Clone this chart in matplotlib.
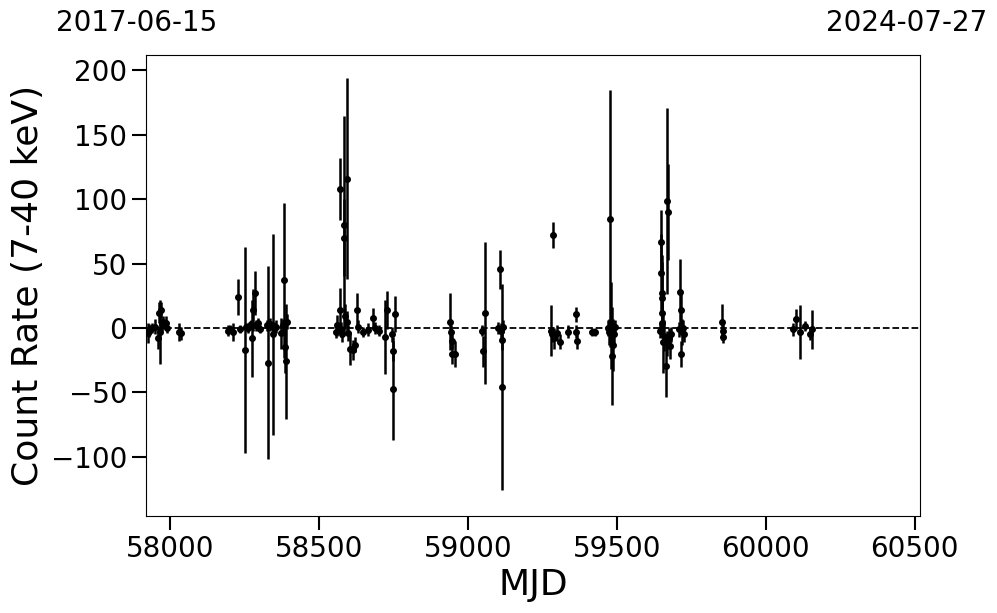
import matplotlib.pyplot as plt

# light curve values (MJD, rate, 1-sigma error)
mjd = [
    57925, 57930, 57940, 57950, 57958, 57962, 57965, 57970, 57973, 57976, 57980, 57985, 57990, 58030, 58035,
    58194, 58201, 58211, 58228, 58235, 58251, 58255, 58262, 58270, 58275, 58278, 58285, 58290, 58295, 58302,
    58325, 58329, 58335, 58345, 58350, 58356, 58372, 58380, 58382, 58386, 58389, 58392,
    58557, 58562, 58570, 58570, 58574, 58576, 58585, 58585, 58587, 58593, 58593, 58597, 58604, 58614, 58621,
    58627, 58631, 58648, 58665, 58681, 58688, 58700, 58722, 58728, 58744, 58749, 58749, 58755,
    58940, 58942, 58945, 58948, 58957,
    59046, 59052, 59057, 59101, 59108, 59112, 59116, 59116, 59119,
    59279, 59283, 59286, 59290, 59299, 59309, 59336, 59363, 59363, 59365, 59416, 59427,
    59470, 59474, 59477, 59480, 59483, 59486, 59490, 59494,
    59645, 59648, 59648, 59650, 59651, 59653, 59653, 59655, 59658, 59664, 59667, 59670, 59673, 59675, 59679, 59682,
    59708, 59712, 59714, 59716, 59720, 59722, 59725,
    59854, 59857, 59858,
    60093, 60102, 60115, 60132, 60149, 60155,
]
rate = [
    -4, -2, 0, 1, -8, 12, -3, 14, 3, 5, 2, 4, 0, -3, -4,
    -2, -1, -3, 24, -1, -17, 1, 0, 3, -8, 14, 27, 2, 4, -1,
    2, -27, 3, -5, 0, 1, -4, 2, 37, -15, -26, 5,
    -3, 2, 14, 108, -1, -5, 80, 70, 9, 116, 5, -4, -16, -17, -13,
    14, 1, -3, -1.5, 7.5, 0, -2, -7, 14, -5, -18, -47, 11,
    5, -3, -10, -20, -20,
    -2, -18, 11.5, 0, 45.6, -2, -9, -45.6, 1,
    -2, -5, 72, -8, -4, -10.6, -3, 10.6, -3, -10, -3, -3,
    0, -3, 85, 2, -22, -13, -5, 1,
    -2, 67, 43, 27, 23, 12, 3.6, -11, -6, -29.5, -12, 98.7, 90, -8, -14, -5,
    -1, 27.8, -20, 14, -3, 0, -5,
    5, -2, -7,
    -1, 6.7, -3, 1.5, -4.7, -1,
]
err = [
    8, 5, 4, 6, 8, 8, 25, 6, 5, 4, 3, 5, 4, 7, 5,
    4, 3, 7, 14, 3, 80, 3, 4, 3, 30, 16, 17, 4, 4, 3,
    4, 75, 5, 78, 5, 5, 12, 5, 60, 20, 45, 6,
    5, 8, 17, 24, 6, 6, 85, 30, 10, 78, 8, 6, 13, 8, 6,
    13, 5, 4, 5, 8, 5, 4, 29, 15, 6, 8, 40, 14,
    22, 5, 6, 8, 10,
    4, 12, 55, 5, 15, 6, 8, 80, 5,
    20, 6, 10, 8, 6, 6, 5, 6, 5, 6, 3, 3,
    6, 10, 100, 34, 38, 20, 8, 5,
    6, 25, 30, 30, 28, 15, 8, 24, 12, 24, 10, 72, 37, 8, 10, 6,
    6, 26, 10, 14, 10, 6, 6,
    14, 5, 5,
    5, 8, 21, 4, 5, 15,
]

start_label = '2017-06-15'
end_label = '2024-07-27'
x_lo, x_hi = 57919, 60518

fig, ax = plt.subplots(figsize=(9.97, 6.13))
fig.subplots_adjust(left=0.1464, right=0.9228, top=0.9103, bottom=0.1582)

ax.errorbar(mjd, rate, yerr=err, fmt='o', color='black', ms=4, elinewidth=1.8, capsize=0)
ax.axhline(0, color='black', ls='--', lw=1.3)

ax.set_xlim(x_lo, x_hi)
ax.set_ylim(-146, 212)
ax.set_xticks([58000, 58500, 59000, 59500, 60000, 60500])
ax.set_yticks([-100, -50, 0, 50, 100, 150, 200])
ax.tick_params(axis='both', labelsize=20, length=10, width=1.5)
ax.set_xlabel('MJD', fontsize=26)
ax.set_ylabel('Count Rate (7-40 keV)', fontsize=26)

fig.text(0.137, 0.962, start_label, fontsize=20, ha='center', va='center')
fig.text(0.909, 0.962, end_label, fontsize=20, ha='center', va='center')

plt.savefig('out.png', dpi=100)
